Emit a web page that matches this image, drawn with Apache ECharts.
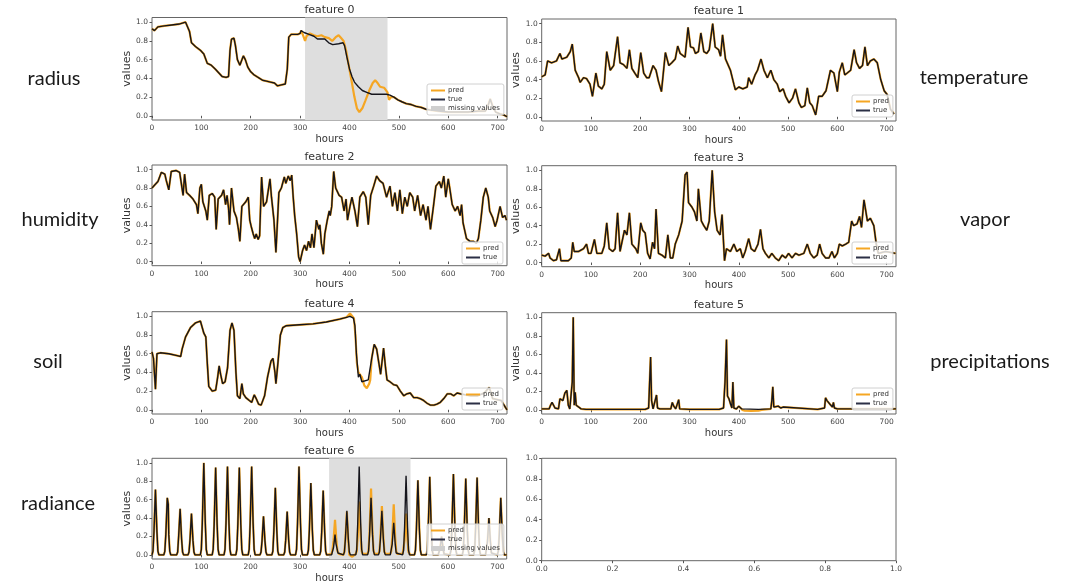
<!DOCTYPE html>
<html>
<head>
<meta charset="utf-8">
<script src="https://cdn.jsdelivr.net/npm/echarts@6/dist/echarts.min.js"></script>
<style>
  html, body { margin: 0; padding: 0; background: #fff; }
  #main { width: 1065px; height: 584px; }
</style>
</head>
<body>
<div id="main"></div>
<script>
// ---- data: [hour, value] ----
var featureTitles = ['feature 0', 'feature 1', 'feature 2', 'feature 3', 'feature 4', 'feature 5', 'feature 6'];
var leftNames = ['radius', 'humidity', 'soil', 'radiance'];
var rightNames = ['temperature', 'vapor', 'precipitations'];
var hourTicks = [0, 100, 200, 300, 400, 500, 600, 700];
var valueTicks = [0, 0.2, 0.4, 0.6, 0.8, 1.0];
var gap0 = [310, 477];
var gap6 = [359, 524];

var true0 = [[0,0.93],[5,0.91],[12,0.95],[25,0.96],[40,0.97],[55,0.98],[68,1.0],[72,0.99],[76,0.9],[80,0.78],[88,0.74],[98,0.7],[105,0.66],[112,0.56],[120,0.54],[128,0.5],[135,0.46],[142,0.42],[150,0.41],[155,0.42],[158,0.7],[161,0.82],[166,0.83],[169,0.75],[173,0.6],[178,0.54],[181,0.52],[185,0.64],[189,0.6],[194,0.52],[200,0.47],[206,0.44],[212,0.42],[218,0.4],[224,0.38],[232,0.37],[240,0.36],[248,0.35],[254,0.32],[262,0.33],[270,0.34],[274,0.5],[277,0.84],[282,0.87],[295,0.87],[300,0.88],[302,0.91],[308,0.89],[318,0.87],[328,0.85],[335,0.82],[350,0.82],[358,0.78],[366,0.76],[378,0.77],[387,0.78],[390,0.75],[395,0.62],[400,0.5],[405,0.42],[410,0.36],[418,0.31],[426,0.27],[435,0.25],[445,0.23],[460,0.23],[475,0.23],[482,0.22],[490,0.2],[498,0.17],[506,0.15],[515,0.13],[525,0.12],[535,0.1],[545,0.09],[555,0.07],[565,0.06],[580,0.05],[600,0.04],[620,0.04],[640,0.04],[660,0.05],[675,0.05],[680,0.1],[685,0.18],[690,0.1],[696,0.04],[705,0.02],[712,0.01],[719,-0.01]];
var pred0Gap = [[306,0.86],[310,0.8],[313,0.85],[320,0.88],[328,0.86],[335,0.85],[343,0.86],[350,0.84],[358,0.83],[365,0.8],[372,0.84],[378,0.86],[383,0.83],[388,0.8],[393,0.7],[398,0.55],[404,0.38],[410,0.2],[415,0.08],[420,0.04],[426,0.08],[432,0.16],[440,0.27],[447,0.35],[452,0.38],[457,0.35],[462,0.31],[466,0.33],[470,0.3],[474,0.29],[477,0.25],[480,0.17],[484,0.2],[488,0.2]];

var true1 = [[0,0.43],[7,0.45],[12,0.6],[20,0.58],[30,0.6],[37,0.68],[41,0.62],[51,0.64],[58,0.7],[62,0.78],[68,0.5],[75,0.42],[78,0.37],[85,0.42],[91,0.41],[98,0.35],[103,0.22],[110,0.47],[115,0.33],[122,0.3],[127,0.35],[132,0.7],[139,0.5],[146,0.55],[154,0.86],[159,0.58],[166,0.56],[173,0.52],[178,0.72],[183,0.52],[190,0.46],[195,0.42],[201,0.69],[207,0.47],[213,0.42],[218,0.42],[226,0.55],[232,0.5],[237,0.38],[243,0.27],[251,0.69],[258,0.55],[264,0.58],[271,0.62],[276,0.76],[281,0.68],[291,0.64],[297,0.96],[302,0.75],[308,0.74],[312,0.68],[318,0.7],[323,0.9],[329,0.7],[335,0.68],[340,0.72],[347,1.0],[352,0.75],[359,0.72],[363,0.65],[367,0.88],[373,0.62],[383,0.5],[390,0.35],[393,0.29],[400,0.32],[408,0.3],[417,0.32],[420,0.42],[426,0.35],[433,0.45],[438,0.5],[445,0.62],[451,0.5],[458,0.42],[465,0.5],[471,0.4],[478,0.35],[483,0.27],[490,0.3],[495,0.22],[502,0.15],[509,0.2],[515,0.3],[522,0.15],[527,0.1],[534,0.12],[539,0.31],[544,0.15],[549,0.12],[556,0.02],[562,0.22],[569,0.22],[577,0.28],[586,0.5],[593,0.47],[600,0.27],[604,0.48],[610,0.58],[615,0.45],[620,0.47],[627,0.5],[634,0.72],[639,0.58],[645,0.52],[651,0.55],[656,0.75],[661,0.55],[667,0.6],[674,0.62],[681,0.58],[688,0.4],[695,0.28],[701,0.24],[708,0.08],[715,0.03]];

var true2 = [[0,0.8],[5,0.83],[12,0.87],[19,0.97],[26,0.95],[29,0.88],[34,0.78],[39,0.98],[49,0.99],[56,0.97],[60,0.96],[63,0.72],[66,0.95],[70,0.75],[76,0.72],[83,0.68],[90,0.62],[93,0.52],[97,0.8],[100,0.84],[103,0.65],[109,0.55],[112,0.45],[116,0.72],[122,0.74],[127,0.7],[130,0.35],[134,0.68],[141,0.72],[145,0.78],[149,0.62],[152,0.72],[155,0.58],[157,0.4],[161,0.8],[166,0.55],[171,0.48],[175,0.35],[178,0.22],[182,0.6],[186,0.6],[190,0.65],[195,0.7],[198,0.45],[201,0.38],[205,0.3],[208,0.25],[211,0.3],[215,0.24],[218,0.28],[222,0.92],[226,0.6],[232,0.65],[239,0.9],[242,0.7],[247,0.45],[251,0.1],[257,0.75],[262,0.8],[268,0.92],[271,0.85],[276,0.93],[280,0.88],[283,0.94],[286,0.7],[289,0.5],[293,0.3],[297,0.05],[300,0.0],[305,0.12],[309,0.18],[313,0.12],[317,0.22],[321,0.15],[324,0.3],[328,0.15],[333,0.45],[338,0.35],[340,0.4],[343,0.2],[347,0.08],[350,0.3],[355,0.45],[359,0.55],[361,0.5],[364,0.6],[368,0.98],[372,0.8],[379,0.72],[384,0.7],[389,0.55],[393,0.68],[396,0.45],[401,0.6],[405,0.7],[411,0.55],[416,0.38],[421,0.7],[428,0.76],[433,0.7],[438,0.4],[443,0.72],[449,0.82],[455,0.93],[461,0.88],[468,0.85],[475,0.7],[482,0.82],[487,0.6],[492,0.75],[497,0.55],[502,0.78],[507,0.52],[512,0.7],[517,0.6],[522,0.75],[528,0.7],[532,0.55],[538,0.72],[544,0.5],[549,0.62],[555,0.45],[559,0.6],[564,0.35],[570,0.6],[575,0.82],[582,0.87],[586,0.8],[591,0.93],[595,0.7],[600,0.9],[603,0.8],[608,0.62],[614,0.55],[619,0.6],[624,0.5],[627,0.62],[630,0.42],[637,0.25],[644,0.22],[651,0.22],[657,0.2],[661,0.25],[666,0.45],[671,0.7],[676,0.8],[681,0.7],[684,0.55],[690,0.48],[695,0.38],[699,0.45],[705,0.6],[710,0.48],[715,0.5],[718,0.45]];

var true3 = [[0,0.08],[7,0.07],[14,0.1],[17,0.05],[24,0.02],[30,0.03],[36,0.15],[39,0.02],[54,0.02],[60,0.05],[63,0.22],[66,0.12],[75,0.12],[85,0.15],[91,0.2],[95,0.1],[100,0.1],[107,0.25],[112,0.1],[122,0.1],[127,0.18],[132,0.43],[137,0.15],[144,0.12],[149,0.15],[154,0.54],[159,0.12],[164,0.25],[168,0.35],[173,0.3],[178,0.54],[183,0.2],[191,0.15],[195,0.1],[201,0.43],[205,0.35],[210,0.32],[215,0.1],[220,0.04],[225,0.22],[229,0.15],[232,0.58],[237,0.1],[244,0.08],[251,0.05],[256,0.3],[261,0.05],[266,0.05],[271,0.2],[278,0.3],[285,0.45],[291,0.95],[295,0.98],[298,0.65],[305,0.6],[310,0.55],[315,0.45],[318,0.8],[324,0.45],[329,0.4],[335,0.35],[340,0.45],[346,1.0],[351,0.55],[356,0.35],[362,0.3],[366,0.52],[371,0.02],[375,0.15],[383,0.12],[390,0.2],[396,0.12],[403,0.15],[408,0.05],[413,0.12],[420,0.26],[425,0.15],[432,0.12],[439,0.2],[444,0.36],[449,0.15],[454,0.1],[461,0.05],[467,0.1],[474,0.05],[481,0.02],[488,0.08],[495,0.05],[501,0.1],[508,0.05],[515,0.1],[522,0.08],[532,0.1],[539,0.2],[545,0.1],[552,0.05],[559,0.08],[564,0.2],[569,0.1],[576,0.05],[583,0.05],[589,0.12],[594,0.05],[600,0.1],[604,0.2],[610,0.18],[617,0.2],[623,0.22],[629,0.45],[633,0.4],[640,0.42],[645,0.5],[649,0.38],[654,0.68],[661,0.45],[667,0.48],[674,0.4],[679,0.2],[683,0.1],[698,0.12],[718,0.1]];

var true4 = [[0,0.62],[3,0.55],[7,0.22],[10,0.6],[17,0.61],[34,0.6],[51,0.58],[58,0.57],[61,0.65],[68,0.78],[78,0.88],[88,0.93],[98,0.95],[102,0.95],[105,0.82],[109,0.78],[112,0.5],[115,0.25],[122,0.2],[129,0.21],[133,0.35],[136,0.47],[139,0.38],[143,0.28],[148,0.3],[153,0.45],[158,0.85],[162,0.93],[166,0.85],[170,0.4],[173,0.15],[178,0.12],[182,0.28],[185,0.17],[190,0.13],[197,0.1],[202,0.08],[207,0.16],[211,0.12],[216,0.06],[221,0.05],[228,0.15],[234,0.35],[241,0.52],[245,0.55],[249,0.4],[251,0.28],[255,0.5],[260,0.8],[265,0.88],[272,0.9],[299,0.91],[326,0.92],[353,0.94],[380,0.97],[394,0.99],[401,1.0],[408,0.98],[411,0.9],[414,0.6],[418,0.35],[421,0.38],[425,0.3],[438,0.32],[445,0.55],[450,0.7],[455,0.65],[461,0.45],[463,0.38],[469,0.66],[473,0.45],[476,0.32],[482,0.3],[489,0.27],[496,0.26],[503,0.2],[510,0.15],[516,0.17],[523,0.18],[530,0.13],[537,0.13],[543,0.12],[550,0.1],[557,0.07],[564,0.05],[571,0.05],[577,0.06],[584,0.08],[591,0.12],[598,0.17],[605,0.17],[611,0.15],[618,0.18],[625,0.17],[635,0.16],[645,0.15],[659,0.15],[673,0.18],[683,0.24],[690,0.12],[707,0.1],[713,0.05],[719,0.0]];
var pred4Diff = [[398,1.0],[401,1.03],[405,1.035],[409,0.98],[412,0.8],[415,0.5],[418,0.4],[421,0.42],[425,0.35],[430,0.26],[435,0.23],[440,0.28],[442,0.32]];

var true5 = [[0,0.01],[15,0.01],[18,0.05],[21,0.08],[24,0.07],[27,0.02],[34,0.01],[37,0.12],[40,0.14],[43,0.1],[47,0.18],[51,0.21],[54,0.05],[57,0.01],[60,0.02],[62,0.3],[64,1.0],[66,0.05],[68,0.19],[70,0.05],[74,0.03],[80,0.01],[90,0.005],[150,0.005],[210,0.005],[217,0.02],[219,0.3],[221,0.57],[223,0.1],[226,0.01],[230,0.02],[233,0.16],[235,0.02],[240,0.01],[262,0.01],[265,0.08],[268,0.04],[272,0.01],[276,0.02],[278,0.11],[280,0.01],[300,0.005],[360,0.005],[369,0.02],[372,0.3],[375,0.76],[377,0.15],[380,0.12],[384,0.05],[386,0.02],[388,0.3],[390,0.02],[395,0.01],[400,0.04],[403,0.05],[406,0.01],[440,0.005],[465,0.01],[467,0.1],[469,0.25],[471,0.03],[475,0.03],[480,0.04],[485,0.02],[490,0.03],[494,0.01],[560,0.005],[574,0.02],[576,0.13],[579,0.1],[582,0.08],[585,0.06],[588,0.08],[590,0.03],[592,0.08],[594,0.02],[600,0.01],[719,0.01]];
var pred5Diff = [[407,0.0],[412,-0.008],[425,-0.012],[440,-0.01],[446,0.0]];

var true6 = [[0,0],[2,0.04],[4,0.25],[7,0.71],[10,0.25],[12,0.04],[14,0],
    [24,0],[26,0.04],[28,0.22],[31,0.62],[33,0.55],[34,0.22],[36,0.04],[38,0],
    [50,0],[52,0.03],[54,0.2],[57,0.5],[60,0.17],[62,0.03],[64,0],
    [73,0],[75,0.03],[77,0.16],[80,0.45],[83,0.16],[85,0.03],[87,0],
    [98,0],[100,0.06],[102,0.35],[105,1.0],[108,0.35],[110,0.06],[112,0],
    [122,0],[124,0.06],[126,0.33],[129,0.95],[132,0.33],[134,0.06],[136,0],
    [146,0],[148,0.06],[150,0.34],[153,0.96],[156,0.34],[158,0.06],[160,0],
    [170,0],[172,0.06],[174,0.33],[177,0.95],[180,0.33],[182,0.06],[184,0],
    [195,0],[197,0.06],[199,0.34],[202,0.96],[205,0.34],[207,0.06],[209,0],
    [219,0],[221,0.03],[223,0.15],[226,0.42],[229,0.15],[231,0.03],[233,0],
    [243,0],[245,0.04],[247,0.26],[250,0.73],[253,0.26],[255,0.04],[257,0],
    [267,0],[269,0.03],[271,0.16],[274,0.47],[277,0.16],[279,0.03],[281,0],
    [291,0],[293,0.06],[295,0.34],[298,0.96],[301,0.34],[303,0.06],[305,0],
    [315,0],[317,0.05],[319,0.27],[322,0.78],[325,0.27],[327,0.05],[329,0],
    [340,0],[342,0.04],[344,0.25],[347,0.7],[350,0.25],[352,0.04],[354,0],
    [364,0],[366,0.02],[368,0.08],[371,0.22],[373,0.12],[375,0.1],[377,0.02],[379,0],
    [388,0],[390,0.03],[392,0.17],[395,0.48],[398,0.17],[400,0.03],[402,0],
    [413,0],[415,0.06],[417,0.34],[420,0.96],[423,0.34],[425,0.06],[427,0],
    [437,0],[439,0.04],[441,0.22],[444,0.62],[447,0.22],[449,0.04],[451,0],
    [459,0],[461,0.03],[463,0.17],[466,0.48],[469,0.17],[471,0.03],[473,0],
    [483,0],[485,0.02],[487,0.12],[490,0.35],[493,0.12],[495,0.02],[497,0],
    [508,0],[510,0.05],[512,0.3],[515,0.86],[518,0.3],[520,0.05],[522,0],
    [532,0],[534,0.05],[536,0.28],[539,0.81],[542,0.28],[544,0.05],[546,0],
    [556,0],[558,0.05],[560,0.3],[563,0.85],[566,0.3],[568,0.05],[570,0],
    [580,0],[582,0.01],[584,0.07],[587,0.2],[590,0.07],[592,0.01],[594,0],
    [604,0],[606,0.05],[608,0.31],[611,0.88],[614,0.31],[616,0.05],[618,0],
    [629,0],[631,0.05],[633,0.29],[636,0.83],[639,0.29],[641,0.05],[643,0],
    [652,0],[654,0.05],[656,0.29],[659,0.84],[662,0.29],[664,0.05],[666,0],
    [676,0],[678,0.02],[680,0.14],[683,0.4],[686,0.14],[688,0.02],[690,0],
    [700,0],[702,0.04],[704,0.22],[707,0.62],[710,0.22],[712,0.04],[714,0],[719,0]];
var pred6Gap = [[358,0],[364,0.01],[366,0.06],[368,0.16],[371,0.38],[374,0.14],[376,0.04],[379,0.01],
    [388,0],[390,0.03],[392,0.17],[395,0.47],[398,0.15],[400,0],[402,-0.02],[406,-0.02],[410,0],
    [413,0.01],[415,0.04],[417,0.2],[420,0.58],[423,0.2],[425,0.04],[427,0.01],
    [437,0.01],[439,0.05],[441,0.25],[444,0.72],[447,0.25],[449,0.05],[451,0.01],
    [459,0.01],[461,0.04],[463,0.19],[466,0.53],[469,0.19],[471,0.04],[473,0.01],
    [483,0.01],[485,0.04],[487,0.19],[490,0.55],[493,0.19],[495,0.04],[497,0.01],
    [508,0.01],[510,0.03],[512,0.16],[515,0.45],[518,0.16],[520,0.03],[522,0.01],[524,0]];

// predictions: same as truth except where they were read to differ
function splice(base, from, to, part) {
    return base.filter(function (p) { return p[0] < from; })
        .concat(part, base.filter(function (p) { return p[0] > to; }));
}
var pred0 = splice(true0, 306, 488, pred0Gap);
var pred4 = splice(true4, 396, 442, pred4Diff);
var pred5 = splice(true5, 406, 446, pred5Diff);
var pred6 = splice(true6, 357, 524, pred6Gap);

var trueData = [true0, true1, true2, true3, true4, true5, true6];
var predData = [pred0, true1, true2, true3, pred4, pred5, pred6];
var gaps = [gap0, null, null, null, null, null, gap6];

// ---- layout ----
var boxes = [
    [152, 17.5, 355, 102.5], [541.7, 19, 354.3, 102],
    [152, 165, 355, 100.7], [541.7, 165.7, 354.3, 101],
    [152, 311.7, 355, 102.3], [541.7, 312.7, 354.3, 101.3],
    [152, 458.3, 354.7, 101.7], [541.7, 458.3, 354.3, 102.4]
];
var legendPos = [[427, 84], [852, 95], [462, 242], [852, 242], [462, 388], [852, 388], [427, 524]];
var leftPos = [[54, 79], [60, 220], [48, 362], [58, 504]];
var rightPos = [[974, 78], [985, 220], [990, 362]];

var tickFont = 'DejaVu Sans';
var predColor = '#f5a623', trueColor = '#15151c', patchColor = '#cfcfcf';
var lineIcon = 'path://M0,0H70V10H0Z';
var grids = [], xAxes = [], yAxes = [], titles = [], legends = [], series = [];

boxes.forEach(function (b, i) {
    var empty = i === 7;
    grids.push({left: b[0], top: b[1], width: b[2], height: b[3], show: true,
        borderColor: '#666', borderWidth: 1, backgroundColor: 'transparent'});
    xAxes.push({
        type: 'value', gridIndex: i, min: 0, max: empty ? 1 : 719,
        name: empty ? '' : 'hours', nameLocation: 'middle', nameGap: 14,
        nameTextStyle: {fontFamily: tickFont, fontSize: 10, color: '#333'},
        axisLine: {show: false}, splitLine: {show: false},
        axisTick: {show: true, length: 2.5, lineStyle: {color: '#555'},
            customValues: empty ? valueTicks : hourTicks},
        axisLabel: {fontFamily: tickFont, fontSize: 7.5, color: '#444', margin: 4,
            customValues: empty ? valueTicks : hourTicks,
            formatter: function (v) { return empty ? v.toFixed(1) : String(v); }}
    });
    yAxes.push({
        type: 'value', gridIndex: i, min: empty ? 0 : -0.045, max: empty ? 1 : 1.05,
        name: empty ? '' : 'values', nameLocation: 'middle', nameGap: 14,
        nameTextStyle: {fontFamily: tickFont, fontSize: 11, color: '#333'},
        axisLine: {show: false}, splitLine: {show: false},
        axisTick: {show: true, length: 2.5, lineStyle: {color: '#555'}, customValues: valueTicks},
        axisLabel: {fontFamily: tickFont, fontSize: 7.5, color: '#444', margin: 4,
            customValues: valueTicks,
            formatter: function (v) { return v.toFixed(1); }}
    });
    if (empty) return;

    titles.push({text: featureTitles[i], left: b[0] + b[2] / 2, top: b[1] - 13, textAlign: 'center',
        padding: 0, textStyle: {fontFamily: tickFont, fontSize: 11, fontWeight: 'normal', color: '#333'}});

    var items = [{name: 'pred', icon: lineIcon, itemStyle: {color: predColor}},
                 {name: 'true', icon: lineIcon, itemStyle: {color: '#2b2f45'}}];
    if (gaps[i]) {
        items.push({name: 'missing values', icon: 'rect', itemStyle: {color: patchColor}});
        series.push({type: 'line', name: 'missing values', xAxisIndex: i, yAxisIndex: i, data: [],
            symbol: 'none', lineStyle: {color: patchColor}, itemStyle: {color: patchColor}, silent: true,
            markArea: {silent: true, itemStyle: {color: '#dedede', opacity: 1},
                data: [[{xAxis: gaps[i][0]}, {xAxis: gaps[i][1]}]]}});
    }
    legends.push({data: items, orient: 'vertical', left: legendPos[i][0], top: legendPos[i][1],
        itemWidth: 14, itemHeight: 5, itemGap: 2, padding: [3, 4], selectedMode: false,
        symbolKeepAspect: true,
        backgroundColor: 'rgba(255,255,255,0.8)', borderColor: '#d0d0d0', borderWidth: 1, borderRadius: 2,
        textStyle: {fontFamily: tickFont, fontSize: 7, color: '#333', padding: [0, 0, 0, -2]}});

    series.push({type: 'line', name: 'pred', xAxisIndex: i, yAxisIndex: i, data: predData[i],
        symbol: 'none', silent: true, lineStyle: {color: predColor, width: 2.2}, itemStyle: {color: predColor}});
    series.push({type: 'line', name: 'true', xAxisIndex: i, yAxisIndex: i, data: trueData[i],
        symbol: 'none', silent: true, lineStyle: {color: trueColor, width: 1.4},
        itemStyle: {color: '#2b2f45'}});
});

var graphics = [];
leftNames.forEach(function (t, i) {
    graphics.push({type: 'text', x: leftPos[i][0], y: leftPos[i][1],
        style: {text: t, font: '20px Lato', fill: '#1a1a1a', textAlign: 'center', textVerticalAlign: 'middle'}});
});
rightNames.forEach(function (t, i) {
    graphics.push({type: 'text', x: rightPos[i][0], y: rightPos[i][1],
        style: {text: t, font: '20px Lato', fill: '#1a1a1a', textAlign: 'center', textVerticalAlign: 'middle'}});
});

var chart = echarts.init(document.getElementById('main'));
chart.setOption({
    animation: false,
    backgroundColor: '#fff',
    title: titles,
    legend: legends,
    grid: grids,
    xAxis: xAxes,
    yAxis: yAxes,
    series: series,
    graphic: graphics
});
</script>
</body>
</html>
